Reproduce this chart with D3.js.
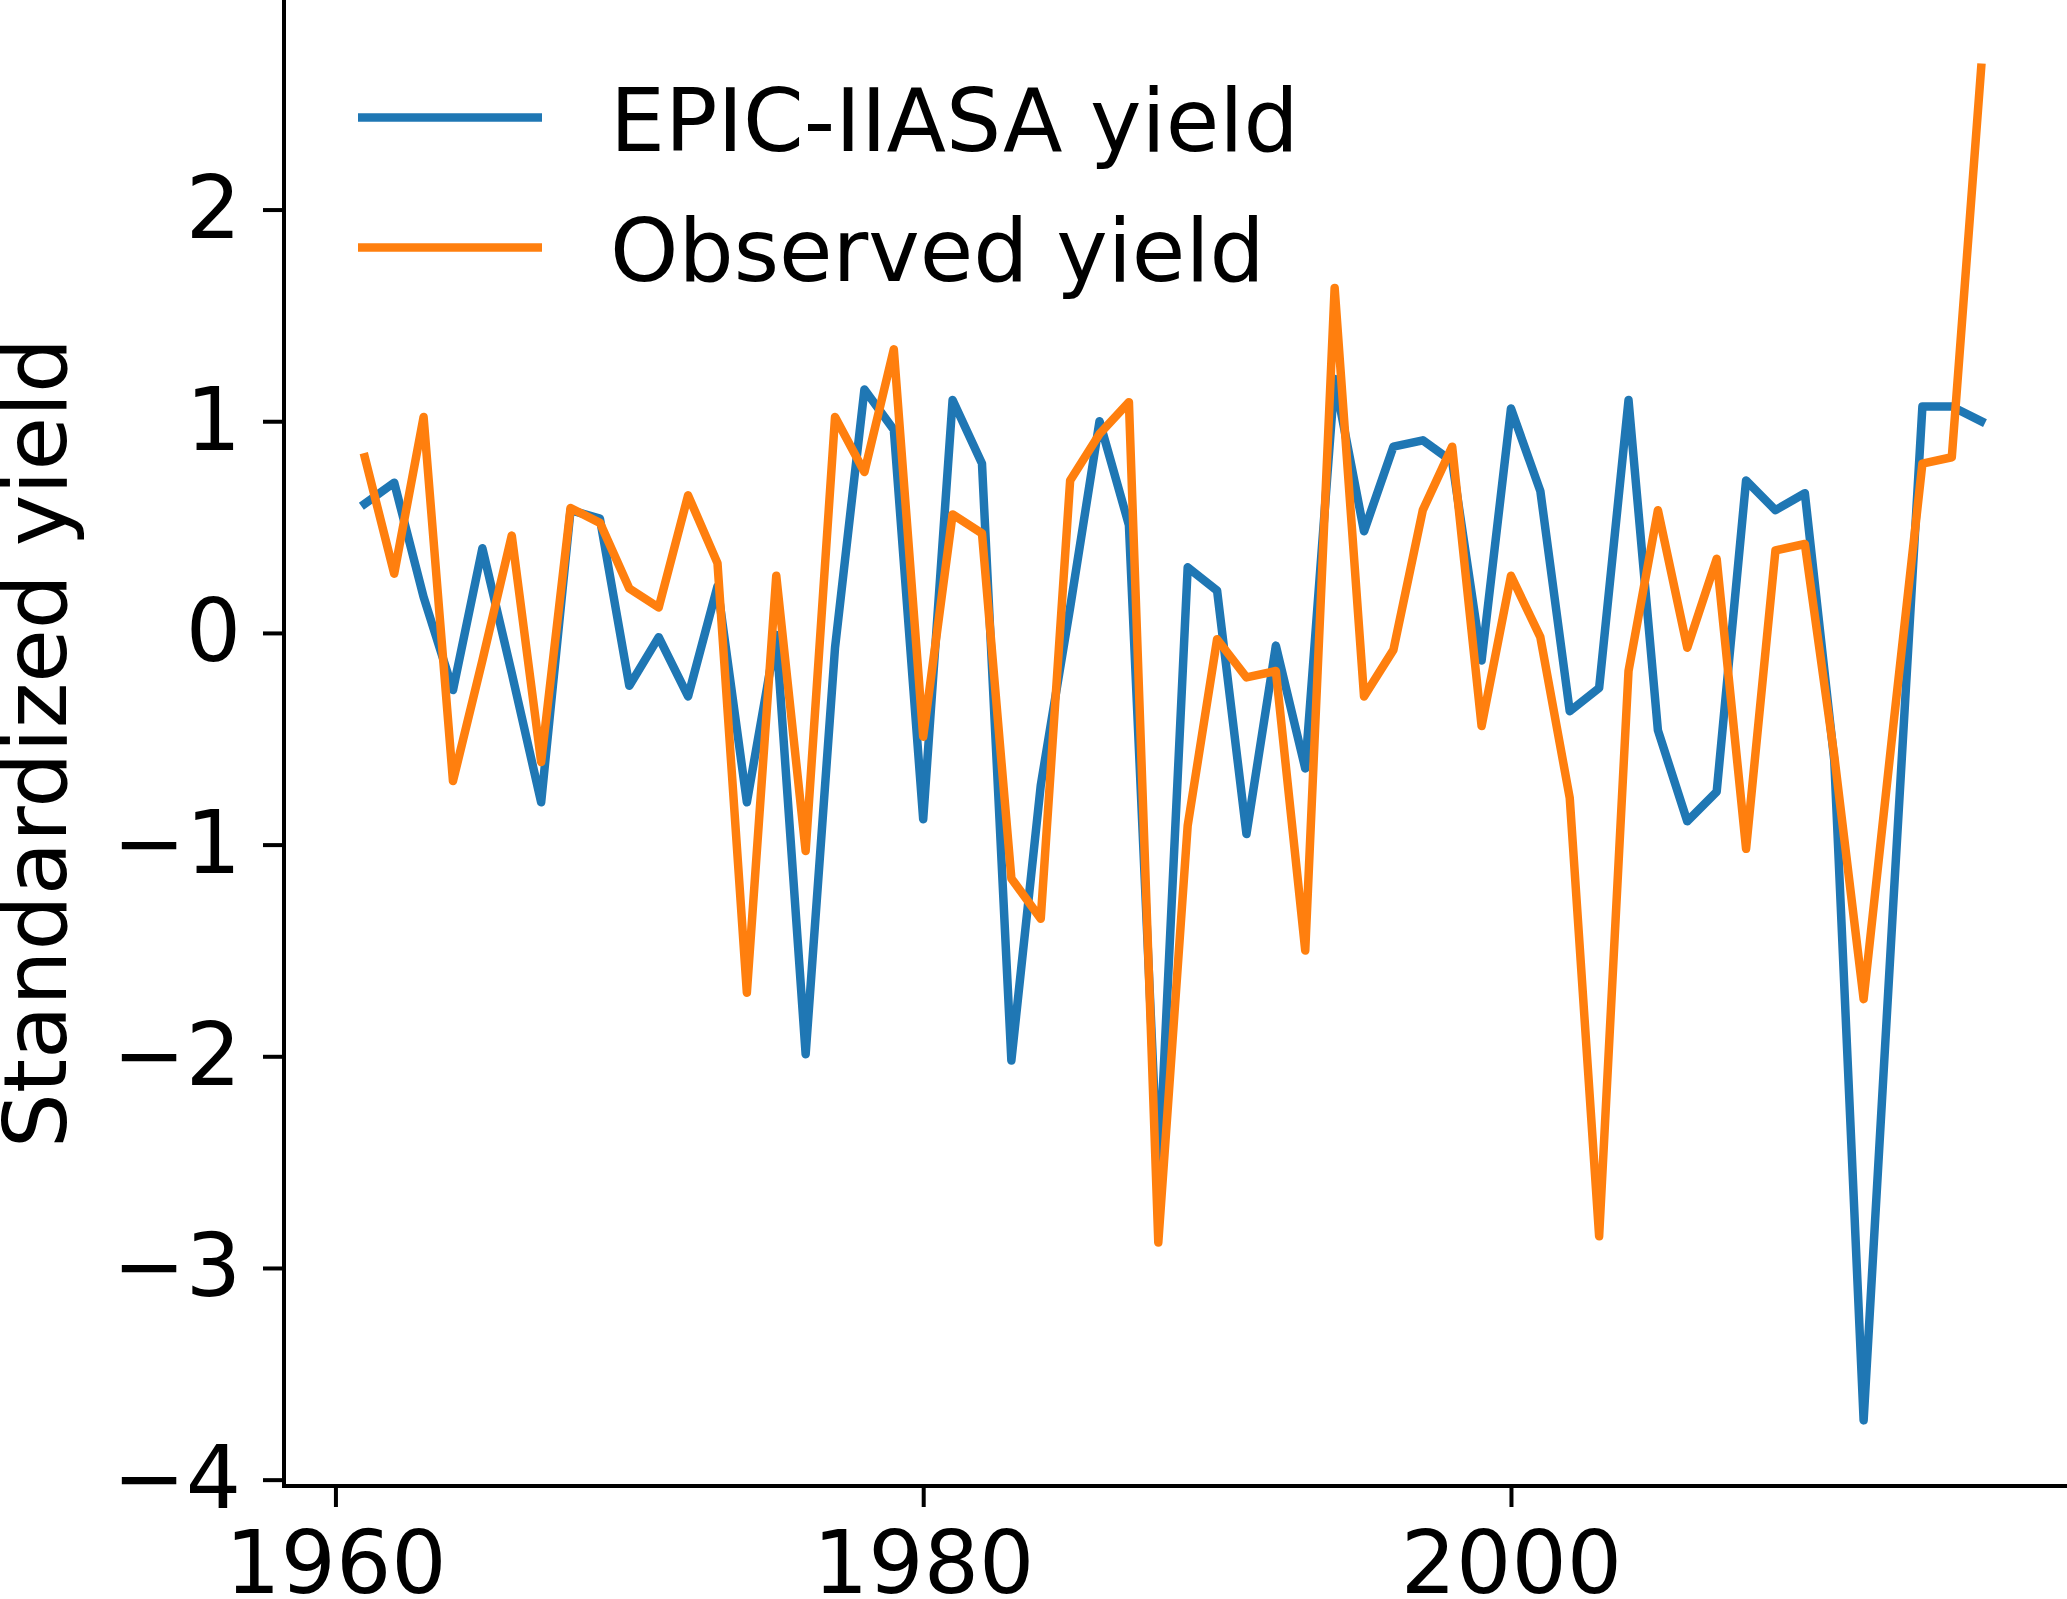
<!DOCTYPE html>
<html>
<head>
<meta charset="utf-8">
<script src="https://cdn.jsdelivr.net/npm/d3@7"></script>
<style>
  body { margin: 0; background: #fff; }
  text { font-family: "DejaVu Sans", sans-serif; fill: #000; }
</style>
</head>
<body>
<div id="chart"></div>
<script>
// years 1961..2016
const years = d3.range(1961, 2017);

const epicYield = [
  0.61, 0.71, 0.17, -0.27, 0.40, -0.19, -0.80, 0.58, 0.54, -0.25,
  -0.02, -0.30, 0.22, -0.80, -0.01, -1.99, -0.07, 1.15, 0.96, -0.88,
  1.10, 0.80, -2.02, -0.72, 0.12, 1.00, 0.51, -2.60, 0.31, 0.20,
  -0.95, -0.06, -0.64, 1.20, 0.48, 0.88, 0.91, 0.81, -0.13, 1.06,
  0.67, -0.37, -0.26, 1.10, -0.46, -0.89, -0.75, 0.72, 0.58, 0.66,
  -0.60, -3.72, -1.30, 1.07, 1.07, 1.00
];

const observedYield = [
  0.83, 0.28, 1.02, -0.70, -0.13, 0.46, -0.61, 0.59, 0.52, 0.21,
  0.12, 0.65, 0.33, -1.70, 0.27, -1.03, 1.02, 0.76, 1.34, -0.49,
  0.56, 0.47, -1.16, -1.35, 0.72, 0.94, 1.09, -2.88, -0.91, -0.03,
  -0.21, -0.18, -1.50, 1.63, -0.30, -0.08, 0.58, 0.88, -0.44, 0.27,
  -0.02, -0.78, -2.85, -0.18, 0.58, -0.07, 0.35, -1.02, 0.39, 0.42,
  -0.58, -1.73, -0.45, 0.80, 0.83, 2.67
];

const xTicks = [1960, 1980, 2000];
const yTicks = [-4, -3, -2, -1, 0, 1, 2];
const seriesNames = ["EPIC-IIASA yield", "Observed yield"];
const seriesColors = ["#1f77b4", "#ff7f0e"];

let W = 2067, H = 1599;
let plot = {left: 284, right: 2062, top: 0, bottom: 1486};
let fontSize = 87;
let lineW = 8.5;

let svg = d3.select("#chart").append("svg")
    .attr("width", W)
    .attr("height", H);

let x = d3.scaleLinear().domain([1958.25, 2018.75]).range([plot.left, plot.right]);
let y = d3.scaleLinear().domain([-4.03, 2.99]).range([plot.bottom, plot.top]);

let line = d3.line()
    .x((d, i) => x(years[i]))
    .y(d => y(d));

[epicYield, observedYield].forEach(function(vals, k) {
    svg.append("path")
        .datum(vals)
        .attr("d", line)
        .attr("fill", "none")
        .attr("stroke", seriesColors[k])
        .attr("stroke-width", lineW)
        .attr("stroke-linejoin", "round")
        .attr("stroke-linecap", "square");
});

// axes
let xAxis = svg.append("g")
    .attr("transform", "translate(0," + plot.bottom + ")")
    .call(d3.axisBottom(x).tickValues(xTicks).tickFormat(d3.format("d"))
        .tickSize(21).tickSizeOuter(0).tickPadding(24));

let yAxis = svg.append("g")
    .attr("transform", "translate(" + plot.left + ",0)")
    .call(d3.axisLeft(y).tickValues(yTicks)
        .tickFormat(d => d < 0 ? "\u2212" + Math.abs(d) : d)
        .tickSize(21).tickSizeOuter(0).tickPadding(22));

[xAxis, yAxis].forEach(function(g) {
    g.selectAll("path.domain").attr("stroke", "#000").attr("stroke-width", 4);
    g.selectAll(".tick line").attr("stroke", "#000").attr("stroke-width", 4);
    g.selectAll(".tick text")
        .attr("font-family", "DejaVu Sans")
        .attr("font-size", fontSize)
        .attr("fill", "#000");
});
// spines: bottom runs to the figure edge, left runs to the top
xAxis.select("path.domain").attr("d", "M" + (plot.left - 2) + ",0H" + W);
yAxis.select("path.domain").attr("d", "M0,0V" + plot.bottom);

// y label
svg.append("text")
    .attr("transform", "translate(66," + ((plot.top + plot.bottom) / 2) + ") rotate(-90)")
    .attr("text-anchor", "middle")
    .attr("font-size", fontSize)
    .text("Standardized yield");

// legend
let legend = svg.append("g");
seriesNames.forEach(function(name, i) {
    let ly = 117.5 + i * 130;
    legend.append("line")
        .attr("x1", 358).attr("x2", 542)
        .attr("y1", ly).attr("y2", ly)
        .attr("stroke", seriesColors[i])
        .attr("stroke-width", lineW);
    legend.append("text")
        .attr("x", 610)
        .attr("y", ly + 33)
        .attr("font-size", fontSize)
        .text(name);
});
</script>
</body>
</html>
